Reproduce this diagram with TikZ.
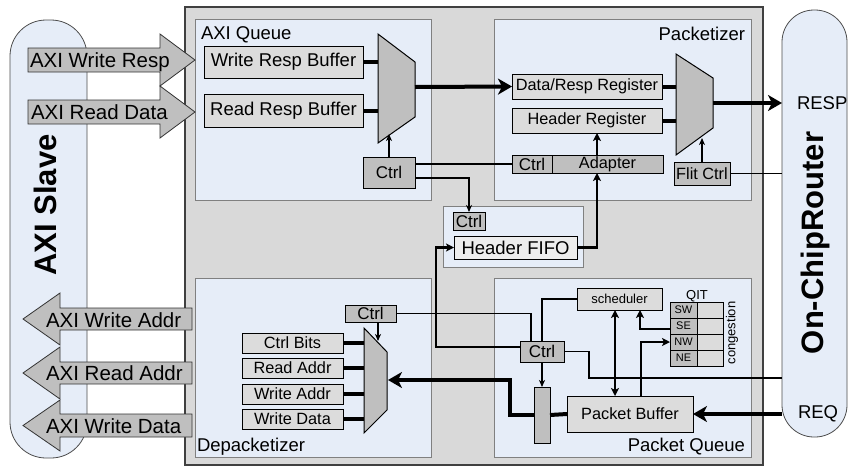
\documentclass[tikz,border=0pt]{standalone}
\usepackage{fontspec}
\setmainfont{Liberation Sans}
\usepackage{tikz}
\usetikzlibrary{arrows.meta,positioning}
\definecolor{chipgray}{HTML}{D9D9D9}
\definecolor{paleblue}{HTML}{E6EDF8}
\definecolor{boxgray}{HTML}{DCDCDC}
\definecolor{muxgray}{HTML}{BFBFBF}
\definecolor{framegray}{HTML}{808080}
\newcommand{\busfont}{\fontsize{20.5}{22}\selectfont}
\newcommand{\lblfont}{\fontsize{18.5}{20}\selectfont}
\newcommand{\regfont}{\fontsize{16.3}{18}\selectfont}
\newcommand{\ctlfont}{\fontsize{17}{18}\selectfont}
\newcommand{\qitfont}{\fontsize{13}{15}\selectfont}
\newcommand{\cellfont}{\fontsize{11}{12}\selectfont}
\newcommand{\sidefont}{\fontsize{31}{33}\selectfont\bfseries}

\begin{document}
\begin{tikzpicture}[x=1pt,y=-1pt,
  every node/.style={inner sep=0pt,outer sep=0pt},
  chip/.style={draw=black!75,fill=chipgray,line width=1.2pt},
  region/.style={draw=framegray,fill=paleblue,line width=1pt},
  pill/.style={draw=black!70,fill=paleblue,line width=0.8pt},
  buf/.style={draw=black,fill=boxgray,line width=1pt},
  ctl/.style={draw=black,fill=muxgray,line width=1pt,font=\ctlfont},
  mux/.style={draw=black,fill=muxgray,line width=1pt},
  blockarrow/.style={draw=black!80,fill=muxgray,line width=0.8pt},
  bus/.style={line width=4pt},
  link/.style={line width=2.2pt},
  wire/.style={line width=1.2pt},
  fatarrow/.style={-{Stealth[length=14pt,width=16pt,inset=4pt]}},
  midarrow/.style={-{Stealth[length=8pt,width=8pt,inset=2pt]}},
  thinarrow/.style={-{Stealth[length=7pt,width=6pt,inset=2pt]}},
  twoway/.style={{Stealth[length=8pt,width=8pt,inset=2pt]}-{Stealth[length=8pt,width=8pt,inset=2pt]}}]
\useasboundingbox (0,0) rectangle (849,467);

\node[pill, rounded corners=36pt, minimum width=77pt, minimum height=438pt] (slave) at (48.5,239) {};
\node[rotate=90, font=\sidefont] (slavelbl) at (45,205) {AXI Slave};
\node[pill, rounded corners=32pt, minimum width=65pt, minimum height=427pt] (router) at (814.5,223.5) {};
\node[rotate=90, font=\sidefont] (routerlbl) at (815,243) {On-ChipRouter};

\node[chip, minimum width=578pt, minimum height=458pt] (chip) at (474,236) {};
\node[region, minimum width=236pt, minimum height=181pt] (axiq) at (313,109.5) {};
\node[region, minimum width=257pt, minimum height=181pt] (pktz) at (622.5,109.5) {};
\node[region, minimum width=236pt, minimum height=179pt] (depkt) at (313,367.5) {};
\node[region, minimum width=257pt, minimum height=179pt] (pktq) at (622.5,367.5) {};
\node[region, minimum width=140pt, minimum height=61pt] (hreg) at (513,236.5) {};
\node[anchor=base west, font=\lblfont] (axiqlbl) at (201,39.5) {AXI Queue};
\node[anchor=base east, font=\lblfont] (pktzlbl) at (745,40.5) {Packetizer};
\node[anchor=base west, font=\lblfont] (depktlbl) at (197,451) {Depacketizer};
\node[anchor=base east, font=\lblfont] (pktqlbl) at (745,451) {Packet Queue};

\draw[blockarrow] (28,48) -- (160,48) -- (160,34) -- (195,60) -- (160,86) -- (160,72) -- (28,72) -- cycle;
\node[anchor=base west, font=\busfont] (wresp) at (30,67) {AXI Write Resp};
\draw[blockarrow] (28,100) -- (160,100) -- (160,86) -- (195,112) -- (160,138) -- (160,124) -- (28,124) -- cycle;
\node[anchor=base west, font=\busfont] (rdata) at (31,119) {AXI Read Data};
\draw[blockarrow] (192,308) -- (60,308) -- (60,293) -- (23,319) -- (60,345) -- (60,330) -- (192,330) -- cycle;
\node[anchor=base west, font=\busfont] (waddr) at (46,327) {AXI Write Addr};
\draw[blockarrow] (192,362) -- (60,362) -- (60,347) -- (23,373) -- (60,399) -- (60,384) -- (192,384) -- cycle;
\node[anchor=base west, font=\busfont] (raddr) at (46,380) {AXI Read Addr};
\draw[blockarrow] (192,414) -- (60,414) -- (60,400) -- (23,425.5) -- (60,451) -- (60,437) -- (192,437) -- cycle;
\node[anchor=base west, font=\busfont] (wdata) at (46,433) {AXI Write Data};

\node[buf, font=\lblfont, minimum width=159pt, minimum height=32pt] (wrb) at (283.5,62) {Write Resp Buffer};
\node[buf, font=\lblfont, minimum width=159pt, minimum height=33pt] (rrb) at (283.5,110.5) {Read Resp Buffer};
\draw[mux] (378,34) -- (415,62) -- (415,117) -- (378,143) -- cycle;
\coordinate (qmuxout) at (415,87);
\draw[bus] (wrb.east) -- +(15,0);
\draw[bus] (rrb.east) -- +(15,0);
\node[ctl, minimum width=52pt, minimum height=31pt] (qctl) at (389,172.5) {Ctrl};
\draw[wire, thinarrow] (qctl.north) -- ++(0,-23);

\node[buf, font=\regfont, minimum width=150pt, minimum height=25pt] (drr) at (587,86.5) {Data/Resp Register};
\node[buf, font=\regfont, minimum width=150pt, minimum height=25pt] (hdr) at (587,120.5) {Header Register};
\draw[mux] (676,54) -- (713,78) -- (713,128) -- (676,155) -- cycle;
\coordinate (pmuxout) at (713,103);
\draw[bus] (drr.east) -- +(14,0);
\draw[bus] (hdr.east) -- +(14,0);
\node[ctl, minimum width=40pt, minimum height=18pt] (pctl) at (532,164) {Ctrl};
\node[ctl, font=\regfont, minimum width=111pt, minimum height=18pt] (adapter) at (607.5,164) {Adapter};
\node[ctl, font=\regfont, minimum width=56pt, minimum height=23pt] (fctl) at (702,173.5) {Flit Ctrl};
\draw[wire, thinarrow] (fctl.north) -- ++(0,-24);
\draw[link, midarrow] ([xshift=-10.5pt]adapter.north) -- ([xshift=-10.5pt]adapter.north |- hdr.south);
\draw[wire] (fctl.east) -- (fctl.east -| router.west);
\draw[bus, fatarrow] (qmuxout) -- (drr.west);
\draw[bus, fatarrow] (pmuxout) -- (pmuxout -| router.west);
\node[anchor=west, font=\lblfont] (resp) at (797,103) {RESP};

\node[ctl, minimum width=32pt, minimum height=18pt] (hctl) at (469,221) {Ctrl};
\node[buf, fill=boxgray!50!white, font=\lblfont, minimum width=123pt, minimum height=23pt] (hfifo) at (515.5,247.5) {Header FIFO};
\draw[wire] (qctl.east |- pctl.west) -- (pctl.west);
\draw[wire, thinarrow] ([yshift=-5.5pt]qctl.east) -| (hctl.north);
\draw[link, midarrow] (hfifo.east) -| ([xshift=-10.5pt]adapter.south);

\node[buf, font=\qitfont, minimum width=85pt, minimum height=22pt] (sched) at (619.5,299) {scheduler};
\node[anchor=base, font=\qitfont] (qit) at (697,299) {QIT};
\node[ctl, draw=black, font=\cellfont, minimum width=27pt, minimum height=16pt] (qsw) at (683.5,310) {SW};
\node[ctl, draw=black, font=\cellfont, minimum width=27pt, minimum height=16pt] (qse) at (683.5,326) {SE};
\node[ctl, draw=black, font=\cellfont, minimum width=27pt, minimum height=16pt] (qnw) at (683.5,342) {NW};
\node[ctl, draw=black, font=\cellfont, minimum width=27pt, minimum height=16pt] (qne) at (683.5,358) {NE};
\node[buf, minimum width=26pt, minimum height=16pt] (qswc) at (710,310) {};
\node[buf, minimum width=26pt, minimum height=16pt] (qsec) at (710,326) {};
\node[buf, minimum width=26pt, minimum height=16pt] (qnwc) at (710,342) {};
\node[buf, minimum width=26pt, minimum height=16pt] (qnec) at (710,358) {};
\node[rotate=90, font=\qitfont] (cong) at (732,333) {congestion};
\node[ctl, minimum width=44pt, minimum height=21pt] (pqctl) at (542,351.5) {Ctrl};
\node[ctl, minimum width=16pt, minimum height=56pt] (bar) at (542,415) {};
\node[buf, font=\regfont, minimum width=126pt, minimum height=36pt] (pkbuf) at (630,414) {Packet Buffer};
\coordinate (ctltap) at (782,378);
\draw[wire] (sched.west) -| (pqctl.north);
\draw[wire] (pqctl.east) -- ++(25,0) |- (ctltap);
\draw[wire, thinarrow] (pqctl.south) -- (bar.north);
\draw[link, midarrow] ([yshift=4.5pt]pqctl.west) -- ++(-84,0) |- (hfifo.west);
\draw[link, twoway] ([xshift=-4.5pt]sched.south) -- ([xshift=-4.5pt]sched.south |- pkbuf.north);
\draw[link, midarrow] ([xshift=11pt]pkbuf.north) |- (qnw.west);
\draw[link, midarrow] ([yshift=-3pt]qse.west) -| ([xshift=20.5pt]sched.south);
\draw[bus] (pkbuf.west) -- (bar.east);
\draw[bus, fatarrow] (pkbuf.east -| router.west) -- (pkbuf.east);
\node[anchor=west, font=\lblfont] (req) at (798,414) {REQ};

\node[ctl, minimum width=51pt, minimum height=17pt] (dctl) at (370.5,313.5) {Ctrl};
\draw[mux] (364,328) -- (387,352) -- (387,410) -- (364,433) -- cycle;
\coordinate (dmuxin) at (388,380);
\node[buf, font=\regfont, minimum width=101pt, minimum height=20pt] (cbits) at (292.5,343) {Ctrl Bits};
\node[buf, font=\regfont, minimum width=101pt, minimum height=20pt] (rad) at (292.5,368) {Read Addr};
\node[buf, font=\regfont, minimum width=101pt, minimum height=20pt] (wad) at (292.5,394) {Write Addr};
\node[buf, font=\regfont, minimum width=101pt, minimum height=20pt] (wdat) at (292.5,419) {Write Data};
\draw[bus] (cbits.east) -- +(21,0);
\draw[bus] (rad.east) -- +(21,0);
\draw[bus] (wad.east) -- +(21,0);
\draw[bus] (wdat.east) -- +(21,0);
\draw[wire, thinarrow] ([xshift=7.5pt]dctl.south) -- ++(0,19);
\draw[wire] (dctl.east) -| ([xshift=-11pt]pqctl.north);
\draw[bus, fatarrow] (bar.west) -- ++(-24,0) |- (dmuxin);
\end{tikzpicture}
\end{document}
